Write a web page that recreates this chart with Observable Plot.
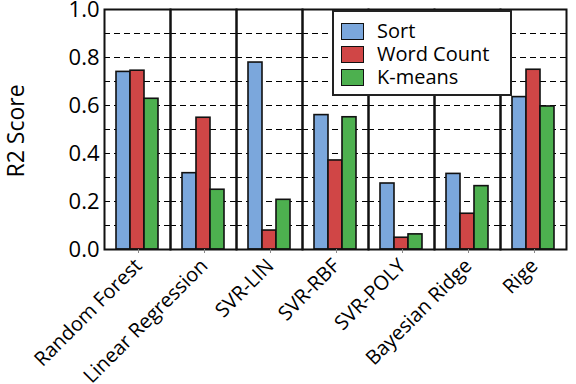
<!DOCTYPE html>
<html>
<head>
<meta charset="utf-8">
<script src="https://cdn.jsdelivr.net/npm/d3@7"></script>
<script src="https://cdn.jsdelivr.net/npm/@observablehq/plot@0.6"></script>
<style>
  html, body { margin: 0; padding: 0; background: white; }
  #wrap { position: relative; width: 576px; height: 384px; font-family: "Open Sans", sans-serif; }
  #legend { position: absolute; left: 332px; top: 10px; width: 176px; height: 82px;
    border: 2px solid #222; background: white; box-sizing: content-box; }
  .item { position: absolute; left: 7px; height: 20px; line-height: 20px; display: flex; align-items: center; font-size: 20px; color: #000; }
  .sw { width: 21px; height: 15px; border: 1px solid #111; margin-right: 13px; }
  #ylabel { position: absolute; left: 15px; top: 131px; transform: translate(-50%, -50%) rotate(-90deg);
    font-size: 23px; line-height: 23px; white-space: nowrap; color: #000; }
</style>
</head>
<body>
<div id="wrap"><div id="chart"></div><div id="legend"></div><div id="ylabel"></div></div>
<script>
const models = ["Random Forest", "Linear Regression", "SVR-LIN", "SVR-RBF", "SVR-POLY", "Bayesian Ridge", "Rige"];
const seriesNames = ["Sort", "Word Count", "K-means"];
const sortVals = [0.74, 0.318, 0.779, 0.56, 0.275, 0.315, 0.635];
const wordCountVals = [0.745, 0.549, 0.079, 0.371, 0.049, 0.149, 0.749];
const kmeansVals = [0.628, 0.249, 0.207, 0.551, 0.063, 0.264, 0.596];
const seriesColors = ["#7ba7dc", "#d04646", "#4db04f"];
const yTicks = [0, 0.2, 0.4, 0.6, 0.8, 1.0];
const gridLines = [0.1, 0.2, 0.3, 0.4, 0.5, 0.6, 0.7, 0.8, 0.9];
const yLabel = "R2 Score";

const valuesBySeries = [sortVals, wordCountVals, kmeansVals];
const data = [];
models.forEach((m, i) => seriesNames.forEach((s, j) => data.push({model: m, series: s, value: valuesBySeries[j][i]})));

const chart = Plot.plot({
  width: 576,
  height: 384,
  marginLeft: 102,
  marginRight: 9,
  marginTop: 9,
  marginBottom: 135,
  style: {fontFamily: "Open Sans, sans-serif", fontSize: "20px", color: "black", background: "white", overflow: "visible"},
  fx: {domain: models, padding: 0, label: null},
  x: {domain: seriesNames, paddingInner: 0, paddingOuter: 0.79, axis: null},
  y: {domain: [0, 1]},
  color: {domain: seriesNames, range: seriesColors},
  marks: [
    Plot.ruleY(gridLines, {stroke: "black", strokeWidth: 1, strokeDasharray: "6,4"}),
    Plot.barY(data, {fx: "model", x: "series", y: "value", fill: "series", stroke: "#111", strokeWidth: 1.6}),
    Plot.frame({stroke: "#111", strokeWidth: 2}),
    Plot.axisY({ticks: yTicks, tickFormat: d3.format(".1f"), tickSize: 0, tickPadding: 5, fontSize: 22, label: null}),
    Plot.axisFx({anchor: "bottom", tickRotate: -45, tickSize: 4, stroke: "#888", strokeWidth: 1, tickPadding: 9, dx: 1, fontSize: 20, label: null})
  ]
});
document.getElementById("chart").appendChild(chart);
document.getElementById("ylabel").textContent = yLabel;

const legend = document.getElementById("legend");
seriesNames.forEach((s, i) => {
  const it = document.createElement("div");
  it.className = "item";
  it.style.top = (9 + i * 23) + "px";
  const sw = document.createElement("div");
  sw.className = "sw";
  sw.style.background = seriesColors[i];
  it.appendChild(sw);
  it.appendChild(document.createTextNode(s));
  legend.appendChild(it);
});
</script>
</body>
</html>
